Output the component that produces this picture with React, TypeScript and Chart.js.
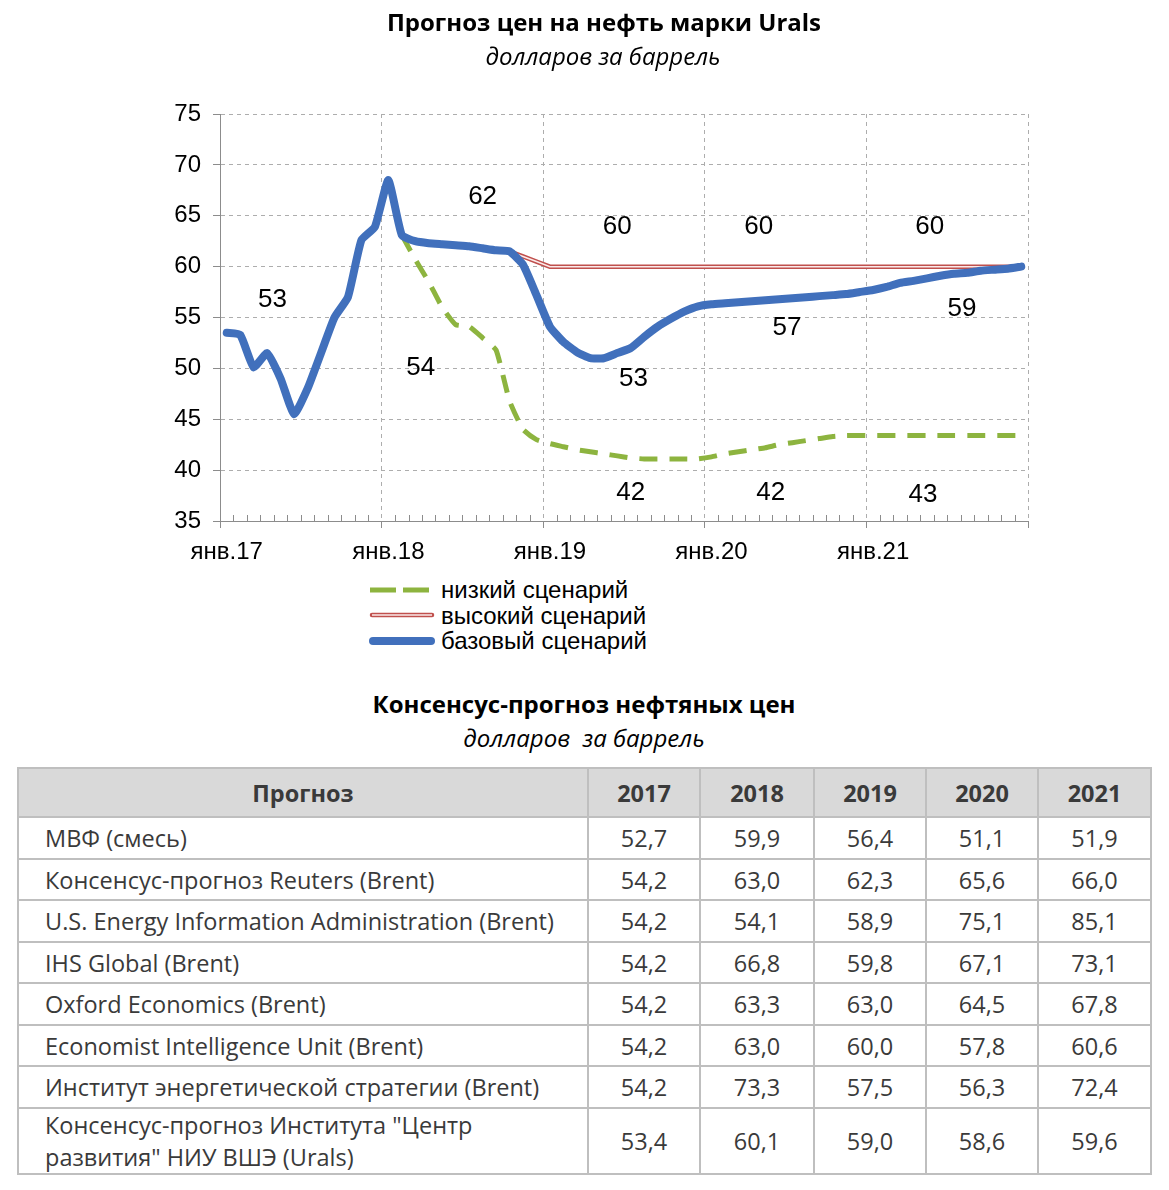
import React, { useEffect, useRef } from 'react';
import { Chart, registerables } from 'chart.js';

Chart.register(...registerables);

// ---------- data ----------
const MONTH_NAMES = ['янв', 'фев', 'мар', 'апр', 'май', 'июн', 'июл', 'авг', 'сен', 'окт', 'ноя', 'дек'];
const YEARS = ['17', '18', '19', '20', '21'];
const CATEGORIES = YEARS.flatMap((y) => MONTH_NAMES.map((m) => `${m}.${y}`));

const BASE_SCENARIO = [
  53.5, 53.3, 50.1, 51.5, 49.0, 45.5, 48.0, 51.5, 55.0, 57.0, 62.6, 63.9,
  68.5, 63.1, 62.5, 62.3, 62.2, 62.1, 62.0, 61.8, 61.6, 61.5, 60.2, 57.2,
  54.1, 52.6, 51.6, 51.0, 51.0, 51.5, 52.0, 53.1, 54.1, 54.9, 55.6, 56.1,
  56.3, 56.4, 56.5, 56.6, 56.7, 56.8, 56.9, 57.0, 57.1, 57.2, 57.3, 57.5,
  57.7, 58.0, 58.4, 58.6, 58.85, 59.1, 59.3, 59.4, 59.6, 59.7, 59.8, 60.0,
];

const HIGH_SCENARIO = [
  null, null, null, null, null, null, null, null, null, null, null, null,
  null, null, null, null, null, null, null, null, null, 61.5, 61.0, 60.5,
  60.0, 60.0, 60.0, 60.0, 60.0, 60.0, 60.0, 60.0, 60.0, 60.0, 60.0, 60.0,
  60.0, 60.0, 60.0, 60.0, 60.0, 60.0, 60.0, 60.0, 60.0, 60.0, 60.0, 60.0,
  60.0, 60.0, 60.0, 60.0, 60.0, 60.0, 60.0, 60.0, 60.0, 60.0, 60.0, 60.0,
];

const LOW_SCENARIO = [
  null, null, null, null, null, null, null, null, null, null, null, null,
  null, 63.1, 60.7, 58.5, 56.0, 54.3, 54.1, 53.0, 51.8, 46.8, 44.0, 43.0,
  42.6, 42.3, 42.0, 41.8, 41.6, 41.4, 41.2, 41.1, 41.1, 41.1, 41.1, 41.1,
  41.3, 41.6, 41.8, 42.0, 42.2, 42.5, 42.7, 42.9, 43.1, 43.3, 43.4, 43.4,
  43.4, 43.4, 43.4, 43.4, 43.4, 43.4, 43.4, 43.4, 43.4, 43.4, 43.4, 43.4,
];

const Y_MIN = 35;
const Y_MAX = 75;
const Y_STEP = 5;

// annotation texts placed in data space (category index, value)
const NOTE_TEXTS = ['53', '54', '62', '60', '53', '60', '57', '42', '42', '60', '59', '43'];
const NOTE_X = [3.4, 14.4, 19.0, 29.0, 30.2, 39.5, 41.6, 30.0, 40.4, 52.2, 54.6, 51.7];
const NOTE_Y = [56.7, 50.1, 66.85, 63.9, 49.0, 63.9, 54.0, 37.8, 37.8, 63.9, 55.9, 37.6];

const LEGEND_LABELS = ['низкий сценарий', 'высокий сценарий', 'базовый сценарий'];

const TABLE_HEAD = ['Прогноз', '2017', '2018', '2019', '2020', '2021'];
const TABLE_NAMES = [
  'МВФ (смесь)',
  'Консенсус-прогноз Reuters (Brent)',
  'U.S. Energy Information Administration (Brent)',
  'IHS Global (Brent)',
  'Oxford Economics (Brent)',
  'Economist Intelligence Unit (Brent)',
  'Институт энергетической стратегии (Brent)',
  'Консенсус-прогноз Института "Центр\nразвития" НИУ ВШЭ (Urals)',
];
const TABLE_VALUES = [
  ['52,7', '59,9', '56,4', '51,1', '51,9'],
  ['54,2', '63,0', '62,3', '65,6', '66,0'],
  ['54,2', '54,1', '58,9', '75,1', '85,1'],
  ['54,2', '66,8', '59,8', '67,1', '73,1'],
  ['54,2', '63,3', '63,0', '64,5', '67,8'],
  ['54,2', '63,0', '60,0', '57,8', '60,6'],
  ['54,2', '73,3', '57,5', '56,3', '72,4'],
  ['53,4', '60,1', '59,0', '58,6', '59,6'],
];

// ---------- styles ----------
const BLUE = '#4170BC';
const GREEN = '#8DB43F';
const RED = '#C0504D';
const GRID = '#ADADAD';
const AXIS = '#8C8C8C';
const CHART_FONT = '"Liberation Sans", Arial, sans-serif';
const TEXT_FONT = '"Open Sans", "Noto Sans", sans-serif';

const CANVAS_W = 1169;
const CANVAS_H = 575;

const overlayPlugin = {
  id: 'overlay',
  afterDraw(chart: any) {
    const { ctx, scales } = chart;
    const x = scales.x;
    const y = scales.y;
    const bottom = chart.chartArea.bottom;
    ctx.save();
    // minor inner ticks at month boundaries
    ctx.strokeStyle = AXIS;
    ctx.lineWidth = 1;
    for (let i = 1; i < CATEGORIES.length; i++) {
      if (i % 12 === 0) continue;
      const px = Math.round((x.getPixelForValue(i - 1) + x.getPixelForValue(i)) / 2) + 0.5;
      ctx.beginPath();
      ctx.moveTo(px, bottom);
      ctx.lineTo(px, bottom - 6);
      ctx.stroke();
    }
    // value notes
    ctx.fillStyle = '#000';
    ctx.font = `26px ${CHART_FONT}`;
    ctx.textAlign = 'center';
    ctx.textBaseline = 'middle';
    NOTE_TEXTS.forEach((t, i) => {
      ctx.fillText(t, x.getPixelForValue(NOTE_X[i]), y.getPixelForValue(NOTE_Y[i]));
    });
    ctx.restore();
  },
};

function OilChart() {
  const ref = useRef<HTMLCanvasElement>(null);
  useEffect(() => {
    if (!ref.current) return;
    const isMajor = (c: any) => c.type !== 'tick' || c.index % 12 === 0;
    const chart = new Chart(ref.current, {
      type: 'line',
      data: {
        labels: CATEGORIES,
        datasets: [
          {
            label: 'базовый сценарий',
            data: BASE_SCENARIO,
            borderColor: BLUE,
            borderWidth: 8,
            borderCapStyle: 'round',
            borderJoinStyle: 'round',
            pointRadius: 0,
            tension: 0.15,
            order: 0,
          },
          {
            label: 'высокий сценарий (центр)',
            data: HIGH_SCENARIO,
            borderColor: '#FBEAEA',
            borderWidth: 1.5,
            pointRadius: 0,
            order: 1,
          },
          {
            label: 'высокий сценарий',
            data: HIGH_SCENARIO,
            borderColor: RED,
            borderWidth: 4.5,
            pointRadius: 0,
            order: 2,
          },
          {
            label: 'низкий сценарий',
            data: LOW_SCENARIO,
            borderColor: GREEN,
            borderWidth: 5,
            borderDash: [18, 12],
            pointRadius: 0,
            tension: 0.15,
            order: 3,
          },
        ],
      } as any,
      options: {
        animation: false,
        responsive: false,
        maintainAspectRatio: false,
        events: [],
        layout: { padding: { left: 0, right: 141, top: 114, bottom: 0 } },
        plugins: {
          legend: { display: false },
          tooltip: { enabled: false },
          title: { display: false },
        },
        scales: {
          x: {
            type: 'category',
            offset: true,
            grid: {
              offset: true,
              color: (c: any) => (isMajor(c) ? GRID : 'rgba(0,0,0,0)'),
              tickColor: (c: any) => (isMajor(c) ? AXIS : 'rgba(0,0,0,0)'),
              tickLength: 7,
              lineWidth: 1,
            },
            border: { display: true, color: AXIS, width: 1, dash: [4, 4] },
            ticks: {
              autoSkip: false,
              maxRotation: 0,
              minRotation: 0,
              padding: 10,
              color: '#000',
              font: { family: CHART_FONT, size: 24 },
              callback: (_v: any, i: number) => (i % 12 === 0 ? CATEGORIES[i] : ''),
            },
            afterFit: (s: any) => {
              s.height = CANVAS_H - 521;
            },
          },
          y: {
            min: Y_MIN,
            max: Y_MAX,
            grid: { color: GRID, tickColor: AXIS, tickLength: 7, lineWidth: 1 },
            border: { display: true, color: AXIS, width: 1, dash: [4, 4] },
            ticks: {
              stepSize: Y_STEP,
              padding: 12,
              color: '#000',
              font: { family: CHART_FONT, size: 24 },
            },
            afterFit: (s: any) => {
              s.width = 220;
            },
          },
        },
      } as any,
      plugins: [overlayPlugin],
    });
    return () => chart.destroy();
  }, []);
  return (
    <canvas
      ref={ref}
      width={CANVAS_W}
      height={CANVAS_H}
      style={{ position: 'absolute', left: 0, top: 0, width: CANVAS_W, height: CANVAS_H }}
    />
  );
}

function LegendSample({ kind }: { kind: number }) {
  if (kind === 0) {
    return (
      <svg width={66} height={14} style={{ display: 'block' }}>
        <line x1={1} y1={7} x2={60} y2={7} stroke={GREEN} strokeWidth={5} strokeDasharray="26 7" />
      </svg>
    );
  }
  if (kind === 1) {
    return (
      <svg width={66} height={14} style={{ display: 'block' }}>
        <line x1={3} y1={7} x2={63} y2={7} stroke={RED} strokeWidth={4.5} strokeLinecap="round" />
        <line x1={3} y1={7} x2={63} y2={7} stroke="#FBEAEA" strokeWidth={1.5} />
      </svg>
    );
  }
  return (
    <svg width={66} height={14} style={{ display: 'block' }}>
      <line x1={4} y1={7} x2={62} y2={7} stroke={BLUE} strokeWidth={8} strokeLinecap="round" />
    </svg>
  );
}

export default function App() {
  const colW = [570, 112, 114, 112, 112, 113];
  const rowH = [42, 41, 42, 41, 42, 41, 42, 64];
  const cellBorder = '2px solid #BFBFBF';
  return (
    <div style={{ position: 'absolute', left: 0, top: 0, width: 1169, height: 1185, overflow: 'hidden', background: '#fff' }}>
      <OilChart />
      <div style={{ position: 'absolute', left: 0, width: 1208, top: 5, textAlign: 'center', font: `bold 24px/34px ${TEXT_FONT}`, color: '#000' }}>
        Прогноз цен на нефть марки Urals
      </div>
      <div style={{ position: 'absolute', left: 0, width: 1206, top: 40, textAlign: 'center', font: `italic 24px/32px ${TEXT_FONT}`, color: '#000' }}>
        долларов за баррель
      </div>

      <div style={{ position: 'absolute', left: 369, top: 577 }}>
        {LEGEND_LABELS.map((t, i) => (
          <div key={t} style={{ display: 'flex', alignItems: 'center', height: 25.5 }}>
            <LegendSample kind={i} />
            <span style={{ font: `24px ${CHART_FONT}`, color: '#000', marginLeft: 6, lineHeight: '25.5px' }}>{t}</span>
          </div>
        ))}
      </div>

      <div style={{ position: 'absolute', left: 0, width: 1168, top: 687, textAlign: 'center', font: `bold 24px/34px ${TEXT_FONT}`, color: '#000' }}>
        Консенсус-прогноз нефтяных цен
      </div>
      <div style={{ position: 'absolute', left: 0, width: 1168, top: 722, textAlign: 'center', font: `italic 24px/32px ${TEXT_FONT}`, color: '#000', whiteSpace: 'pre' }}>
        {'долларов  за баррель'}
      </div>

      <table
        style={{
          position: 'absolute',
          left: 17,
          top: 767,
          width: 1135,
          borderCollapse: 'collapse',
          tableLayout: 'fixed',
          font: `23.5px ${TEXT_FONT}`,
          color: '#3A3A3A',
        }}
      >
        <colgroup>
          {colW.map((w, i) => (
            <col key={i} style={{ width: w }} />
          ))}
        </colgroup>
        <thead>
          <tr style={{ height: 49, background: '#D9D9D9' }}>
            {TABLE_HEAD.map((h) => (
              <th key={h} style={{ border: cellBorder, fontWeight: 700, textAlign: 'center', padding: 0, color: '#3A3A3A' }}>
                {h}
              </th>
            ))}
          </tr>
        </thead>
        <tbody>
          {TABLE_NAMES.map((name, r) => (
            <tr key={name} style={{ height: rowH[r] }}>
              <td style={{ border: cellBorder, padding: '0 0 0 26px', whiteSpace: 'pre-line', lineHeight: '32px' }}>{name}</td>
              {TABLE_VALUES[r].map((v, c) => (
                <td key={c} style={{ border: cellBorder, textAlign: 'center', padding: 0 }}>
                  {v}
                </td>
              ))}
            </tr>
          ))}
        </tbody>
      </table>
    </div>
  );
}
